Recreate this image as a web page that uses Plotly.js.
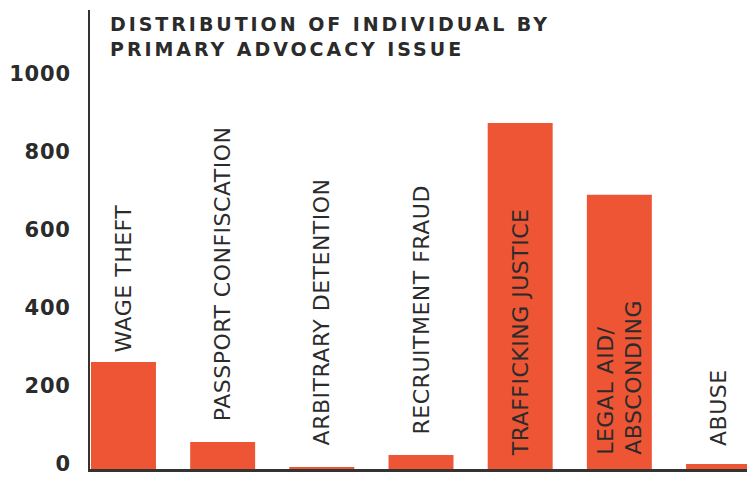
<!DOCTYPE html>
<html>
<head>
<meta charset="utf-8">
<script src="https://cdn.plot.ly/plotly-3.0.1.min.js"></script>
<style>
  html, body { margin: 0; padding: 0; background: #fff; }
  #chart { width: 747px; height: 479px; }
  .gtitle { letter-spacing: 2.95px; }
  .annotation-text { letter-spacing: 0.5px; }
  .ytick text { letter-spacing: 0.8px; }
</style>
</head>
<body>
<div id="chart"></div>
<script>
// ---- data ----
const categories = [
  "Wage theft",
  "Passport confiscation",
  "Arbitrary detention",
  "Recruitment fraud",
  "Trafficking justice",
  "Legal aid / absconding",
  "Abuse"
];
const labelTexts = [
  "WAGE THEFT",
  "PASSPORT CONFISCATION",
  "ARBITRARY DETENTION",
  "RECRUITMENT FRAUD",
  "TRAFFICKING JUSTICE",
  "LEGAL AID/<br>ABSCONDING",
  "ABUSE"
];
const values = [274, 69, 5, 36, 886, 702, 13];
const tickValues = [0, 200, 400, 600, 800, 1000];
const tickLabels = ["0", "200", "400", "600", "800", "1000"];
const titleText = "DISTRIBUTION OF INDIVIDUAL BY<br>PRIMARY ADVOCACY ISSUE";

// ---- style ----
const barColor = "#ED5535";
const inkColor = "#2b2b2b";
// label placement: inside at base for tall bars, otherwise above the bar (pixels)
const insideLabel = [false, false, false, false, true, true, false];
const labelGap = [9, 20, 21, 19, 12, 13, 17];

const annotations = categories.map((c, i) => ({
  x: c,
  y: insideLabel[i] ? 0 : values[i],
  xref: "x",
  yref: "y",
  text: labelTexts[i],
  textangle: -90,
  showarrow: false,
  xanchor: "center",
  yanchor: "bottom",
  yshift: labelGap[i],
  align: "left",
  borderpad: 0,
  font: { family: "DejaVu Sans", size: 22, color: inkColor }
}));

const trace = {
  type: "bar",
  x: categories,
  y: values,
  marker: { color: barColor, line: { width: 0 } },
  hoverinfo: "x+y"
};

const layout = {
  width: 747,
  height: 479,
  margin: { l: 90, r: 0, t: 10, b: 10 },
  paper_bgcolor: "#ffffff",
  plot_bgcolor: "#ffffff",
  showlegend: false,
  bargap: 0.345,
  title: {
    text: titleText,
    xref: "container",
    yref: "container",
    x: 110 / 747,
    xanchor: "left",
    y: 1 - 31 / 479,
    yanchor: "top",
    font: { family: "DejaVu Sans", size: 19, color: inkColor, weight: 700 }
  },
  xaxis: {
    type: "category",
    range: [-0.3376, 6.287],
    showticklabels: false,
    ticks: "",
    showgrid: false,
    zeroline: false,
    showline: true,
    linecolor: "#333333",
    linewidth: 2.5,
    fixedrange: true
  },
  yaxis: {
    range: [0, 1175],
    tickmode: "array",
    tickvals: tickValues,
    ticktext: tickLabels,
    ticks: "",
    ticklabelstandoff: 13,
    ticklabelshift: -5,
    tickfont: { family: "DejaVu Sans", size: 21, color: inkColor, weight: 700 },
    showgrid: false,
    zeroline: false,
    showline: true,
    linecolor: "#333333",
    linewidth: 2,
    fixedrange: true
  },
  annotations: annotations
};

Plotly.newPlot("chart", [trace], layout, { displayModeBar: false, staticPlot: true });
</script>
</body>
</html>
